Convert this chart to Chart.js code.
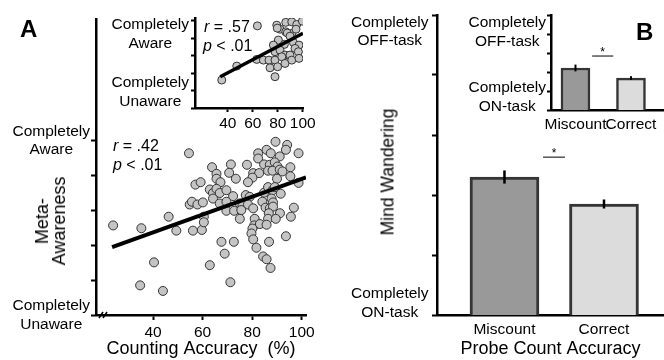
<!DOCTYPE html>
<html lang="en">
<head>
    <meta charset="UTF-8">
    <title>Meta-awareness and mind wandering</title>
    <script src="https://cdn.jsdelivr.net/npm/chart.js"></script>
    <style>
        body {
            margin: 0;
            background: #fff;
            font-family: "Liberation Sans", Arial, sans-serif;
        }
        #wrap {
            position: relative;
            width: 664px;
            height: 360px;
            overflow: hidden;
        }
        #wrap canvas {
            position: absolute;
        }
        .lbl {
            position: absolute;
            color: #000;
            white-space: nowrap;
            line-height: 1;
        }
        .panel {
            font-weight: bold;
            font-size: 24px;
        }
        .stat {
            font-size: 16px;
        }
        .rot {
            position: absolute;
            color: #000;
            white-space: nowrap;
            text-align: center;
            transform: translate(-50%, -50%) rotate(-90deg);
        }
    </style>
</head>
<body>
<div id="wrap">
    <canvas id="mainA" width="320" height="360" style="left:0;top:0"></canvas>
    <canvas id="insetA" width="220" height="135" style="left:100px;top:0"></canvas>
    <canvas id="mainB" width="334" height="360" style="left:330px;top:0"></canvas>
    <canvas id="insetB" width="214" height="140" style="left:450px;top:0"></canvas>

    <div class="lbl panel" style="left:20px;top:17px">A</div>
    <div class="lbl panel" style="left:636px;top:20px">B</div>

    <div class="lbl stat" style="left:113px;top:138px"><i>r</i> = .42</div>
    <div class="lbl stat" style="left:113px;top:157px"><i>p</i> &lt; .01</div>
    <div class="lbl stat" style="left:204px;top:19px"><i>r</i> = .57</div>
    <div class="lbl stat" style="left:203px;top:38px"><i>p</i> &lt; .01</div>

    <div class="rot" style="left:51px;top:221px;font-size:18px;line-height:17px">Meta-<br>Awareness</div>
    <div class="rot" style="left:388px;top:172px;font-size:17.5px">Mind Wandering</div>
</div>

<script>
    // Panel A, main scatter: counting accuracy (%) vs meta-awareness rating
    const accuracy = [
        54.5, 57.1, 59.2, 54.8, 55.7, 57.9, 60.1, 23.9, 35.3, 46.3, 49.4, 56.1, 59.7, 40.4, 34.8, 44.0,
        89.4, 94.1, 82.4, 85.8, 87.5, 82.4, 91.1, 93.6, 98.7, 84.8, 87.1, 89.1, 90.2, 63.8, 71.4, 77.9,
        65.6, 70.7, 73.4, 80.4, 82.8, 80.1, 78.3, 86.4, 88.2, 91.1, 92.2, 95.4, 95.4, 98.7, 90.0, 65.6,
        67.2, 62.9, 64.2, 65.6, 66.9, 69.6, 72.3, 64.2, 77.4, 79.0, 84.8, 86.4, 88.2, 89.1, 91.5, 84.1,
        87.8, 88.4, 66.9, 69.6, 75.0, 76.1, 78.3, 80.4, 69.6, 72.7, 75.6, 85.4, 87.1, 88.4, 86.7, 91.2,
        96.8, 95.6, 60.5, 60.5, 75.0, 81.0, 80.8, 86.4, 89.5, 83.1, 85.8, 80.1, 79.7, 80.4, 93.6, 67.6,
        72.6, 86.8, 68.9, 81.7, 84.4, 85.8, 87.4, 62.9, 71.2
    ];
    const awareness = [
        5.64, 4.74, 4.81, 4.17, 4.25, 4.17, 4.23, 3.57, 3.49, 3.82, 3.42, 3.42, 3.44, 2.51, 1.85, 1.69,
        5.97, 5.88, 5.64, 5.74, 5.64, 5.49, 5.55, 5.74, 5.64, 5.32, 5.31, 5.38, 5.26, 5.24, 5.32, 5.31,
        5.05, 5.08, 4.91, 5.07, 5.07, 4.94, 4.81, 5.14, 5.14, 5.17, 5.12, 5.24, 4.98, 4.79, 4.91, 4.91,
        4.81, 4.60, 4.50, 4.62, 4.50, 4.58, 4.41, 4.34, 4.44, 4.39, 4.51, 4.67, 4.58, 4.67, 4.48, 4.25,
        4.34, 4.23, 4.20, 4.25, 4.20, 4.13, 4.17, 4.06, 3.99, 3.99, 4.01, 4.08, 4.06, 4.11, 3.92, 3.92,
        4.08, 3.82, 3.82, 3.66, 3.76, 3.76, 3.57, 3.76, 3.76, 3.61, 3.59, 3.48, 3.34, 3.17, 3.26, 3.10,
        3.10, 3.10, 2.76, 2.93, 2.68, 2.60, 2.35, 2.43, 1.94
    ];
    const fitX = [23.5, 101.7];
    const fitY = [2.95, 4.95];

    // Panel A, inset scatter
    const insetAccuracy = [
        35.2, 47.2, 63.7, 63.2, 68.5, 73.0, 79.2, 81.8, 86.4, 91.2, 95.2, 99.7, 86.4, 91.2, 94.6, 80.5,
        76.5, 85.3, 92.5, 97.0, 77.8, 81.8, 85.8, 89.8, 93.8, 96.5, 77.8, 83.2, 73.8, 79.9, 85.8, 91.2,
        97.0, 77.8, 79.6, 87.6, 89.8
    ];
    const insetAwareness = [
        2.60, 3.40, 5.70, 3.78, 3.74, 3.74, 5.74, 5.51, 5.90, 5.93, 5.78, 5.97, 5.36, 5.27, 5.51, 4.89,
        4.60, 4.64, 4.75, 4.60, 4.22, 4.31, 4.03, 4.03, 4.41, 4.22, 3.74, 3.93, 3.30, 3.36, 3.55, 3.74,
        3.84, 2.79, 5.57, 5.29, 5.11
    ];
    const insetFitX = [34.0, 100.2];
    const insetFitY = [2.79, 5.27];

    const accTicks = [40, 60, 80, 100];
    const ratingTicks = [1, 2, 3, 4, 5, 6];
    const awareLabels = [['Completely', 'Aware'], ['Completely', 'Unaware']];
    const taskLabels = [['Completely', 'OFF-task'], ['Completely', 'ON-task']];
    // where the two end labels sit on each rating axis
    const mainALabelAt = [6, 1];
    const insetALabelAt = [5.23, 1.91];
    const mainBLabelAt = [5.72, 1.2];
    const insetBLabelAt = [5.08, 1.66];

    // Panel B: mind wandering by probe count accuracy
    const groups = ['Miscount', 'Correct'];
    const mindWandering = [3.30, 2.85];
    const mindWanderingErr = [0.11, 0.075];
    const insetMindWandering = [3.21, 2.68];
    const insetMindWanderingErr = [0.18, 0.10];

    Chart.defaults.font.family = '"Liberation Sans", Arial, sans-serif';
    Chart.defaults.color = '#000';

    const ink = '#000';

    function toPoints(xs, ys) {
        return xs.map((x, i) => ({ x: x, y: ys[i] }));
    }

    // rating axis: tick marks on 1..6, two text labels at given positions
    function ratingAxis(max, labels, labelAt, width, tickLen, pad) {
        return {
            type: 'linear',
            min: 1,
            max: max,
            afterBuildTicks: s => {
                s.ticks = ratingTicks.concat(labelAt.filter(v => !ratingTicks.includes(v)))
                    .sort((a, b) => a - b).map(v => ({ value: v }));
            },
            afterFit: s => { s.width = width; },
            grid: {
                display: true,
                drawOnChartArea: false,
                drawTicks: true,
                tickLength: tickLen,
                tickWidth: 2,
                tickColor: c => (c.tick && ratingTicks.includes(c.tick.value)) ? ink : 'rgba(0,0,0,0)'
            },
            border: { color: ink, width: 2.5 },
            ticks: {
                autoSkip: false,
                crossAlign: 'center',
                padding: pad,
                font: { size: 15.5 },
                callback: v => {
                    const k = labelAt.indexOf(v);
                    return k >= 0 ? labels[k] : '';
                }
            }
        };
    }

    // group axis for the bar panels (linear, so bar spacing follows the picture)
    function groupAxis(min, max, height, pad) {
        return {
            type: 'linear',
            offset: false,
            min: min,
            max: max,
            afterBuildTicks: s => { s.ticks = groups.map((g, i) => ({ value: i })); },
            afterFit: s => { s.height = height; },
            grid: { display: false, offset: false, drawTicks: false, tickLength: 0 },
            border: { color: ink, width: 2.5 },
            ticks: { autoSkip: false, font: { size: 15.5 }, padding: pad, maxRotation: 0, callback: v => groups[v] }
        };
    }

    function barDecor(means, errs, sig) {
        return {
            id: 'barDecor',
            afterDatasetsDraw(chart) {
                const ctx = chart.ctx;
                const x = chart.scales.x, y = chart.scales.y;
                ctx.save();
                ctx.strokeStyle = ink;
                ctx.lineWidth = sig.errWidth;
                means.forEach((m, i) => {
                    const px = x.getPixelForValue(i);
                    ctx.beginPath();
                    ctx.moveTo(px, y.getPixelForValue(m - errs[i]));
                    ctx.lineTo(px, y.getPixelForValue(m + errs[i]));
                    ctx.stroke();
                });
                const sy = y.getPixelForValue(sig.level);
                const x1 = x.getPixelForValue(sig.from), x2 = x.getPixelForValue(sig.to);
                ctx.strokeStyle = '#555';
                ctx.lineWidth = 1.5;
                ctx.beginPath();
                ctx.moveTo(x1, sy);
                ctx.lineTo(x2, sy);
                ctx.stroke();
                ctx.fillStyle = ink;
                ctx.font = '12px "Liberation Sans", Arial, sans-serif';
                ctx.textAlign = 'center';
                ctx.textBaseline = 'alphabetic';
                ctx.fillText('*', (x1 + x2) / 2, sy);
                ctx.restore();
            }
        };
    }

    // small axis-break mark near the origin of the main scatter
    const axisBreak = {
        id: 'axisBreak',
        afterDraw(chart) {
            const ctx = chart.ctx, a = chart.chartArea;
            ctx.save();
            ctx.strokeStyle = ink;
            ctx.lineWidth = 1.5;
            [5, 9].forEach(dx => {
                ctx.beginPath();
                ctx.moveTo(a.left + dx - 2, a.bottom + 3);
                ctx.lineTo(a.left + dx + 2, a.bottom - 3);
                ctx.stroke();
            });
            ctx.restore();
        }
    };

    // Panel A main
    new Chart(document.getElementById('mainA'), {
        type: 'scatter',
        data: {
            datasets: [{
                type: 'line',
                data: toPoints(fitX, fitY),
                borderColor: ink,
                borderWidth: 4,
                pointRadius: 0
            }, {
                data: toPoints(accuracy, awareness),
                pointRadius: 4.5,
                backgroundColor: '#c4c4c4',
                borderColor: '#333',
                borderWidth: 1
            }]
        },
        options: {
            responsive: false,
            animation: false,
            layout: { padding: { left: 0, top: 15, right: 14, bottom: 0 } },
            plugins: { legend: { display: false }, tooltip: { enabled: false } },
            scales: {
                x: {
                    type: 'linear',
                    min: 17,
                    max: 101.7,
                    afterBuildTicks: s => { s.ticks = accTicks.map(v => ({ value: v })); },
                    afterFit: s => { s.height = 45; },
                    grid: { display: true, drawOnChartArea: false, tickLength: 5, tickWidth: 2, tickColor: ink },
                    border: { color: ink, width: 2.5 },
                    ticks: { font: { size: 15.5 }, padding: 3, maxRotation: 0 },
                    title: { display: true, text: 'Counting Accuracy  (%)', font: { size: 18 }, padding: 0 }
                },
                y: ratingAxis(9.475, awareLabels, mainALabelAt, 96, 5, 1)
            }
        },
        plugins: [axisBreak]
    });

    // Panel A inset
    new Chart(document.getElementById('insetA'), {
        type: 'scatter',
        data: {
            datasets: [{
                type: 'line',
                data: toPoints(insetFitX, insetFitY),
                borderColor: ink,
                borderWidth: 3.5,
                pointRadius: 0
            }, {
                data: toPoints(insetAccuracy, insetAwareness),
                pointRadius: 4,
                backgroundColor: '#c4c4c4',
                borderColor: '#333',
                borderWidth: 1
            }]
        },
        options: {
            responsive: false,
            animation: false,
            layout: { padding: { left: 0, top: 18, right: 17, bottom: 0 } },
            plugins: { legend: { display: false }, tooltip: { enabled: false } },
            scales: {
                x: {
                    type: 'linear',
                    min: 13.8,
                    max: 100.2,
                    afterBuildTicks: s => { s.ticks = accTicks.map(v => ({ value: v })); },
                    afterFit: s => { s.height = 27; },
                    grid: { display: true, drawOnChartArea: false, tickLength: 4, tickWidth: 2, tickColor: ink },
                    border: { color: ink, width: 2.5 },
                    ticks: { font: { size: 15.5 }, padding: 2, maxRotation: 0 }
                },
                y: ratingAxis(6.15, awareLabels, insetALabelAt, 95, 4, 2)
            }
        }
    });

    // Panel B main
    const mainBx = groupAxis(-0.678, 1.603, 45, 5);
    mainBx.title = { display: true, text: 'Probe Count Accuracy', font: { size: 18 }, padding: 0 };
    new Chart(document.getElementById('mainB'), {
        type: 'bar',
        data: {
            datasets: [{
                data: toPoints([0, 1], mindWandering),
                backgroundColor: ['#999999', '#dcdcdc'],
                borderColor: '#353535',
                borderWidth: 3,
                borderSkipped: false,
                barThickness: 69
            }]
        },
        options: {
            responsive: false,
            animation: false,
            layout: { padding: { left: 0, top: 15, right: 0, bottom: 0 } },
            plugins: { legend: { display: false }, tooltip: { enabled: false } },
            scales: {
                x: mainBx,
                y: ratingAxis(6, taskLabels, mainBLabelAt, 107, 5, 3.5)
            }
        },
        plugins: [barDecor(mindWandering, mindWanderingErr, { level: 3.63, from: 0.387, to: 0.608, errWidth: 2.5 })]
    });

    // Panel B inset
    new Chart(document.getElementById('insetB'), {
        type: 'bar',
        data: {
            datasets: [{
                data: toPoints([0, 1], insetMindWandering),
                backgroundColor: ['#999999', '#dcdcdc'],
                borderColor: '#353535',
                borderWidth: 2.5,
                borderSkipped: false,
                barThickness: 29
            }]
        },
        options: {
            responsive: false,
            animation: false,
            layout: { padding: { left: 0, top: 15, right: 1, bottom: 0 } },
            plugins: { legend: { display: false }, tooltip: { enabled: false } },
            scales: {
                x: groupAxis(-0.441, 1.577, 30, 5),
                y: ratingAxis(6, taskLabels, insetBLabelAt, 101, 4, 1)
            }
        },
        plugins: [barDecor(insetMindWandering, insetMindWanderingErr, { level: 3.84, from: 0.30, to: 0.68, errWidth: 2 })]
    });
</script>
</body>
</html>
